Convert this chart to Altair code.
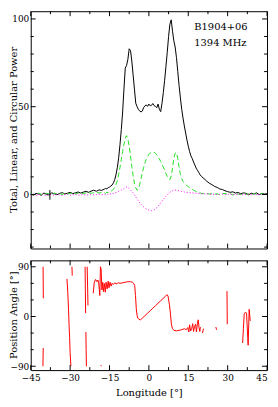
import altair as alt
import pandas as pd

# ---------------- data ----------------
# pulse profile: longitude grid (deg) and Stokes values (% of peak)
LON_LEFT = [-45, -44, -43, -42, -41, -40, -39, -38, -37, -36, -35, -34, -33, -32,
            -31, -30, -29, -28, -27, -26, -25, -24, -23, -22, -21, -20, -19, -18]
I_LEFT = [0.3, -0.4, 0.6, 0.2, -0.5, 0.8, 0.1, -0.3, 0.9, 0.4, -0.2, 0.6, 1.0, 0.3,
          0.7, 1.2, 0.5, 0.9, 1.4, 0.8, 1.3, 1.8, 1.2, 1.9, 2.4, 1.8, 2.6, 2.3]
L_LEFT = [0.5, -0.3, 0.2, 0.7, 0.1, -0.2, 0.6, 0.3, -0.4, 0.8, 0.2, 0.5, -0.1, 0.9,
          0.3, 0.6, 1.1, 0.2, 0.7, 1.0, 0.4, 0.9, 1.2, 0.6, 1.0, 1.4, 0.8, 1.1]
V_LEFT = [-0.3, 0.2, -0.6, -0.1, 0.3, -0.4, -0.7, 0.1, -0.2, -0.5, 0.2, -0.3, -0.6, -0.1,
          0.2, -0.4, -0.2, 0.1, -0.5, -0.3, 0.0, -0.4, -0.2, 0.1, -0.3, -0.1, 0.2, -0.2]

LON_PULSE = [-17, -16.5, -16, -15.5, -15, -14.5, -14, -13.5, -13, -12.5,
             -12, -11.5, -11, -10.5, -10, -9.5, -9, -8.5, -8, -7.5,
             -7, -6.5, -6, -5.5, -5, -4.5, -4, -3.5, -3, -2.5,
             -2, -1.5, -1, -0.5, 0, 0.5, 1, 1.5, 2, 2.5,
             3, 3.5, 4, 4.5, 5, 5.5, 6, 6.5, 7, 7.5,
             8, 8.5, 9, 9.5, 10, 10.5, 11, 11.5, 12, 12.5,
             13, 13.5, 14, 14.5, 15, 15.5, 16, 16.5, 17, 17.5,
             18, 18.5, 19, 19.5, 20]
I_PULSE = [3.0, 3.4, 3.2, 3.9, 4.2, 4.8, 5.4, 6.6, 8.5, 11.5,
           15.5, 21, 28.5, 37, 47, 60, 72, 73.5, 77, 83,
           82, 76, 68, 60, 52, 50, 48.5, 47.5, 47, 47.5,
           49.5, 50.5, 51, 50.2, 51.5, 50.5, 50.8, 51.8, 50.6, 50.2,
           49.4, 51.5, 48.5, 47.2, 52, 58, 65, 73, 81, 90,
           97, 99.5, 93, 87.5, 84, 78, 70, 62, 55, 48.5,
           43.5, 39, 35, 31, 27.5, 24.5, 22, 20.5, 18.5, 16.8,
           15, 13.8, 12.5, 11.2, 10.3]
L_PULSE = [1.0, 0.6, 1.3, 1.0, 1.5, 1.8, 2.2, 3.0, 4.0, 5.8,
           8, 11.5, 15.5, 20, 24.5, 28.5, 32, 33.5, 31.5, 27.5,
           22, 16, 10.5, 6.5, 3.8, 2.4, 3.0, 5.5, 9, 12.5,
           15.5, 18, 20, 21.5, 22.8, 23.6, 24, 24.2, 24, 23.5,
           22.6, 21.5, 20.2, 18.8, 17.2, 15.6, 13.8, 12, 10.3, 9,
           8.4, 10.5, 15, 20.5, 23.5, 23.8, 20.5, 15.5, 11.5, 9,
           7.4, 6.4, 5.6, 5.0, 4.4, 3.8, 3.3, 2.9, 2.4, 2.1,
           1.7, 1.5, 1.1, 0.9, 0.6]
V_PULSE = [0.1, -0.2, 0.3, 0.0, 0.4, 0.2, 0.6, 0.5, 0.9, 1.1,
           1.4, 1.8, 2.1, 2.5, 2.9, 3.3, 3.8, 4.2, 4.0, 3.4,
           2.6, 1.8, 0.9, -0.2, -1.4, -2.6, -3.7, -4.7, -5.6, -6.4,
           -7.1, -7.7, -8.2, -8.6, -8.9, -9.1, -9.2, -9.1, -8.8, -8.3,
           -7.6, -6.8, -5.8, -4.8, -3.8, -2.8, -1.9, -1.0, -0.2, 0.6,
           1.2, 1.7, 2.1, 2.4, 2.5, 2.5, 2.3, 2.1, 1.9, 1.7,
           1.6, 1.4, 1.3, 1.2, 1.1, 1.0, 0.9, 0.9, 0.8, 0.7,
           0.7, 0.6, 0.5, 0.5, 0.4]

LON_TAIL = [21, 22, 23, 24, 25, 26, 27, 28, 29, 30, 31, 32, 33, 34, 35, 36, 37,
            38, 39, 40, 41, 42, 43, 44, 45]
I_TAIL = [9.0, 7.6, 6.4, 5.6, 4.6, 4.0, 3.1, 2.8, 2.1, 1.6, 1.2, 1.5, 0.8, 1.1,
          0.4, 0.9, 0.6, -0.2, 0.7, 0.3, 0.9, -0.1, 0.5, 0.2, 0.4]
L_TAIL = [0.4, 0.6, 0.2, 0.5, 0.1, 0.4, -0.2, 0.3, 0.6, 0.0, 0.4, -0.3, 0.5, 0.2,
          -0.1, 0.6, 0.1, 0.3, -0.2, 0.5, 0.2, 0.0, 0.4, -0.1, 0.3]
V_TAIL = [0.4, 0.2, 0.3, 0.0, 0.2, -0.1, 0.1, 0.3, -0.2, 0.0, 0.2, -0.3, 0.1, -0.1,
          0.2, -0.4, 0.0, 0.1, -0.2, 0.2, -0.1, 0.0, -0.3, 0.1, 0.0]

# error bar in the off-pulse region
ERR_LON = [-37.7]
ERR_LO = [-3.0]
ERR_HI = [2.5]

# labels in the upper right
LABEL_LON = [17.3, 17.3]
LABEL_VAL = [95.5, 86.0]
LABEL_TXT = ["B1904+06", "1394 MHz"]

# axis titles
TITLE_TOP = "Total, Linear, and Circular Power"
TITLE_BOTTOM = "Position Angle [°]"
TITLE_X = "Longitude [°]"

# position angle: segment id, longitude, PA (deg)
PA_SEG = ([0, 0] + [1, 1] + [2] * 7 + [3, 3] + [4] * 3 + [5] * 3 + [6] * 3
          + [7] * 77 + [8, 8] + [9, 9] + [10, 10] + [11] * 3 + [12] * 8)
PA_LON = ([-40.3, -40.2] + [-40.35, -40.25]
          + [-31.2, -30.9, -30.6, -30.4, -30.2, -30.0, -29.7]
          + [-29.3, -29.2] + [-24.3, -24.2, -24.1] + [-24.0, -23.9, -23.8]
          + [-23.5, -23.35, -23.2]
          + [-21.2, -20.8, -20.3, -19.8, -19.4,
             -19.1, -18.7, -18.45, -18.2, -17.9,
             -17.6, -17.3, -17.0, -16.6, -16.3,
             -15.9, -15.5, -15.2, -14.8, -14.4,
             -14.0, -13.6, -13.0, -12.5, -12.0,
             -11.5, -11.0, -10.0, -9.0, -8.0,
             -7.0, -6.3, -5.8, -5.4, -5.1,
             -4.8, -4.5, -4.2, -3.8, -3.2,
             -2.5, -1.5, -0.5, 0.5, 1.5,
             2.5, 3.5, 4.5, 5.5, 6.3,
             6.9, 7.3, 7.8, 8.2, 8.6,
             9.0, 9.5, 10.5, 11.5, 12.5,
             13.5, 14.2, 14.8, 15.2, 15.5,
             15.9, 16.3, 16.7, 17.0, 17.4,
             17.8, 18.1, 18.5, 18.8, 19.1,
             19.4, 19.6]
          + [-18.3, -18.1] + [20.4, 20.8] + [25.5, 25.8] + [29.75, 29.8, 29.85]
          + [35.7, 36.0, 36.3, 36.8, 37.2, 37.8, 38.2, 38.6])
PA_VAL = ([90, 33] + [-90, -57]
          + [68, 45, 12, -15, -38, -65, -90]
          + [90, 74] + [90, 50, 6] + [-28, -60, -90]
          + [90, 55, 20]
          + [42, 62, 67, 63, 66,
             60, 38, 90, 86, 48,
             62, 45, 60, 44, 62,
             50, 64, 52, 62, 55,
             60, 58, 61, 59, 60,
             61, 60, 61, 62, 63,
             63, 62, 60, 56, 38,
             14, 2, -3, -5, -6,
             -3, 1.5, 6, 10.5, 15,
             19.5, 24, 28.5, 33, 36.5,
             39.5, 37, 22, 6, -15,
             -22, -25, -26, -25, -24,
             -22, -24, -20, -28, -15,
             -26, -22, -13, -27, -18,
             -14, -28, -12, -6, -20,
             -27, -19]
          + [-88, -90] + [-30, -22] + [-19, -24] + [46, 15, -14]
          + [-48, -22, 4, 8, 6, -52, 13, -8])

# axis ticks / labels
X_LABELS = [-45, -30, -15, 0, 15, 30, 45]
X_MINOR = [-37.5, -22.5, -7.5, 7.5, 22.5, 37.5]
Y1_LABELS = [0, 50, 100]
Y1_MINOR = [-30, -20, -10, 10, 20, 30, 40, 60, 70, 80, 90]
Y2_LABELS = [-90, 0, 90]
Y2_MINOR = [-60, -30, 30, 60]

# ---------------- chart ----------------
FONT = "DejaVu Serif"
W, H1, H2 = 239, 240, 111
MAJ, MIN = 5, 3
TITLE_OFF = -17

prof = pd.DataFrame({
    "lon": LON_LEFT + LON_PULSE + LON_TAIL,
    "I": I_LEFT + I_PULSE + I_TAIL,
    "L": L_LEFT + L_PULSE + L_TAIL,
    "V": V_LEFT + V_PULSE + V_TAIL,
})
pa = pd.DataFrame({"seg": PA_SEG, "lon": PA_LON, "pa": PA_VAL})
err = pd.DataFrame({"lon": ERR_LON, "lo": ERR_LO, "hi": ERR_HI})
lab = pd.DataFrame({"lon": LABEL_LON, "val": LABEL_VAL, "txt": LABEL_TXT})

xscale = alt.Scale(domain=[-45, 45], nice=False, zero=False)
y1scale = alt.Scale(domain=[-30.8, 104.4], nice=False, zero=False)
y2scale = alt.Scale(domain=[-97, 101.6], nice=False, zero=False)

common_axis = dict(ticks=False, tickSize=0, domain=False, grid=False,
                   labelFont=FONT, labelFontSize=9, labelColor="black",
                   titleFont=FONT, titleFontSize=10, titleFontWeight="normal",
                   titleColor="black")
y1axis = alt.Axis(values=Y1_LABELS, title=None, labelPadding=2, **common_axis)
y2axis = alt.Axis(values=Y2_LABELS, title=None, labelPadding=2, **common_axis)
x2axis = alt.Axis(values=X_LABELS, title=TITLE_X, labelPadding=4,
                  titlePadding=5, labelFlush=False, labelOverlap=False,
                  labelAlign=alt.condition("datum.value >= 45", alt.value("right"),
                                           alt.value("center")),
                  **common_axis)


def tick_layers(xaxis, yscale, yaxis, height, xmaj, xmin, ymaj, ymin):
    layers = []
    for vals, ln in ((xmaj, MAJ), (xmin, MIN)):
        d = pd.DataFrame({"t": vals})
        xenc = alt.X("t:Q", scale=xscale, axis=xaxis)
        layers.append(alt.Chart(d).mark_rule(color="black", strokeWidth=1).encode(
            x=xenc, y=alt.value(0), y2=alt.value(ln)))
        layers.append(alt.Chart(d).mark_rule(color="black", strokeWidth=1).encode(
            x=xenc, y=alt.value(height), y2=alt.value(height - ln)))
    for vals, ln in ((ymaj, MAJ), (ymin, MIN)):
        d = pd.DataFrame({"t": vals})
        yenc = alt.Y("t:Q", scale=yscale, axis=yaxis)
        layers.append(alt.Chart(d).mark_rule(color="black", strokeWidth=1).encode(
            y=yenc, x=alt.value(0), x2=alt.value(ln)))
        layers.append(alt.Chart(d).mark_rule(color="black", strokeWidth=1).encode(
            y=yenc, x=alt.value(W), x2=alt.value(W - ln)))
    return layers


def y_title(text, height):
    d = pd.DataFrame({"t": [text]})
    return alt.Chart(d).mark_text(angle=270, align="center", baseline="middle",
                                  font=FONT, fontSize=10, color="black").encode(
        x=alt.value(TITLE_OFF), y=alt.value(height / 2), text="t:N")


x1 = alt.X("lon:Q", scale=xscale, axis=None)
base = alt.Chart(prof)
tot = base.mark_line(color="black", strokeWidth=1).encode(
    x=x1, y=alt.Y("I:Q", scale=y1scale, axis=y1axis))
lin = base.mark_line(color="#22e022", strokeWidth=1, strokeDash=[5, 3]).encode(
    x=x1, y=alt.Y("L:Q", scale=y1scale, axis=y1axis))
circ = base.mark_line(color="#ff00ff", strokeWidth=1, strokeDash=[1, 2]).encode(
    x=x1, y=alt.Y("V:Q", scale=y1scale, axis=y1axis))
ebar = alt.Chart(err).mark_rule(color="black", strokeWidth=1).encode(
    x=x1, y=alt.Y("lo:Q", scale=y1scale, axis=y1axis), y2="hi:Q")
txt = alt.Chart(lab).mark_text(align="left", baseline="middle", font=FONT,
                               fontSize=10, color="black").encode(
    x=x1, y=alt.Y("val:Q", scale=y1scale, axis=y1axis), text="txt:N")

top = alt.layer(
    tot, lin, circ, ebar, txt, y_title(TITLE_TOP, H1),
    *tick_layers(None, y1scale, y1axis, H1, X_LABELS, X_MINOR, Y1_LABELS, Y1_MINOR)
).properties(width=W, height=H1)

x2 = alt.X("lon:Q", scale=xscale, axis=x2axis)
pal = alt.Chart(pa).mark_line(color="#ff0000", strokeWidth=1).encode(
    x=x2, y=alt.Y("pa:Q", scale=y2scale, axis=y2axis), detail="seg:N")

bottom = alt.layer(
    pal, y_title(TITLE_BOTTOM, H2),
    *tick_layers(x2axis, y2scale, y2axis, H2, X_LABELS, X_MINOR, Y2_LABELS, Y2_MINOR)
).properties(width=W, height=H2)

chart = alt.vconcat(top, bottom, spacing=10).properties(padding=0).configure(
    font=FONT).configure_view(stroke="black", strokeWidth=1)

chart.save("out.html", embed_options={"renderer": "svg", "actions": False})
